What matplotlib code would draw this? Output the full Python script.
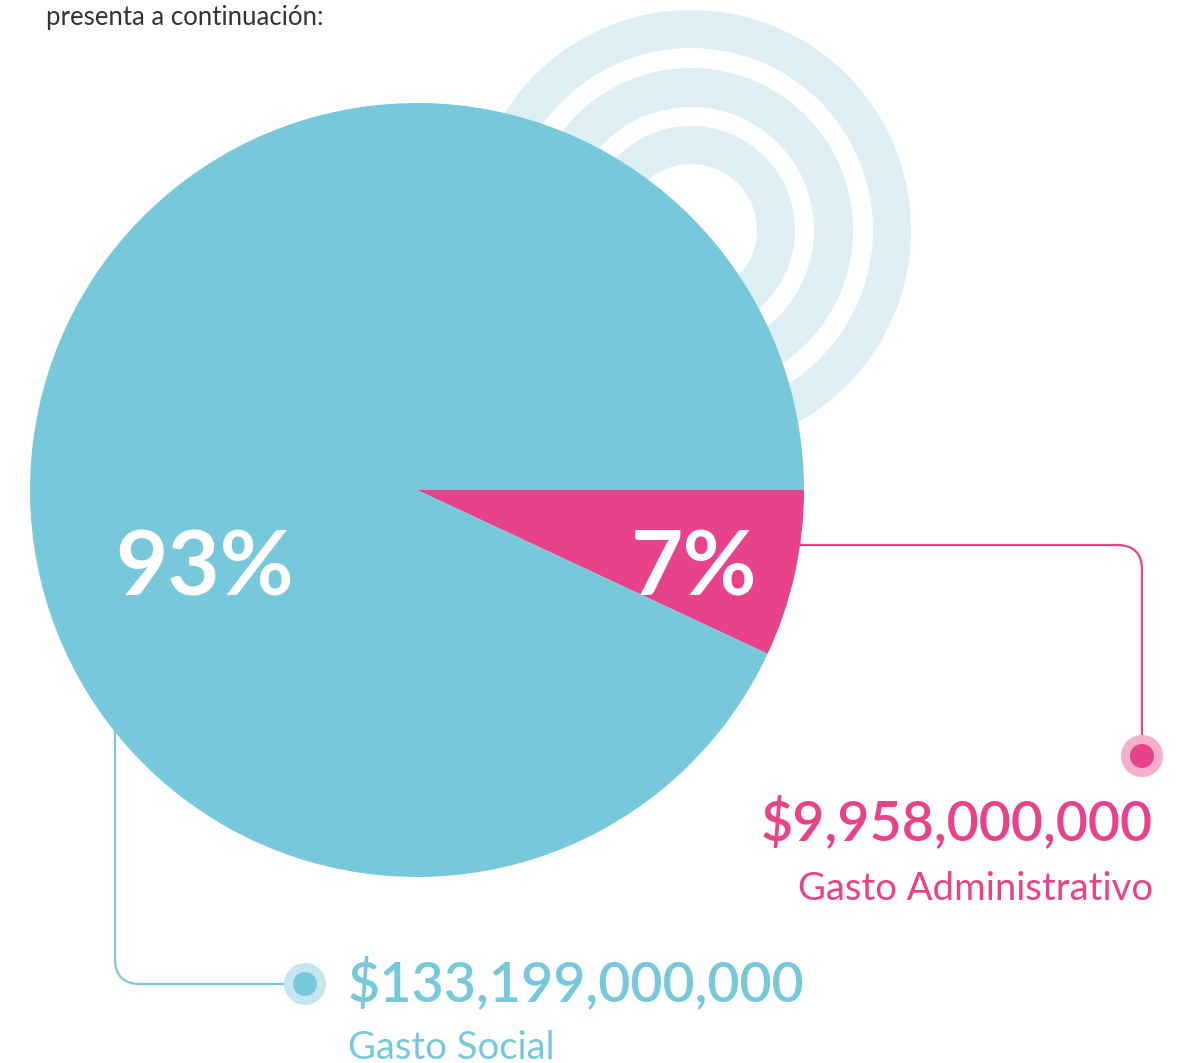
import numpy as np
import matplotlib
matplotlib.use("Agg")
import matplotlib.pyplot as plt
from matplotlib.patches import Wedge, Circle, PathPatch
from matplotlib.path import Path

# data
categories = ["Gasto Administrativo", "Gasto Social"]
amounts = [9958000000, 133199000000]
amount_labels = ["$9,958,000,000", "$133,199,000,000"]
pct_labels = ["7%", "93%"]
intro = "presenta a continuación:"

blue = "#78c8db"
pink = "#e8428b"
ring_col = "#ddeff5"

W, H = 1185, 1063
fig = plt.figure(figsize=(W / 100, H / 100), dpi=100)
ax = fig.add_axes([0, 0, 1, 1])

# pie geometry in pixel units (y axis inverted so it reads like the image)
cx, cy, R = 417, 490, 387

# decorative rings behind the pie
rc = (691, 230)
for r_out, r_in in [(220, 182), (162, 123), (104, 66)]:
    ax.add_patch(Wedge(rc, r_out, 0, 360, width=r_out - r_in, facecolor=ring_col,
                       edgecolor="none", zorder=1))

wedges, _ = ax.pie(amounts, colors=[pink, blue], startangle=0, counterclock=True,
                   center=(cx, cy), radius=R, wedgeprops=dict(linewidth=0))
for w in wedges:
    w.set_zorder(3)

ax.set_xlim(0, W)
ax.set_ylim(H, 0)
ax.set_aspect("equal")
ax.axis("off")

# percentage labels
ax.text(694, 569, pct_labels[0], color="white", fontsize=65, fontweight="bold",
        family="Lato", ha="center", va="center", zorder=5)
ax.text(205, 569, pct_labels[1], color="white", fontsize=65, fontweight="bold",
        family="Lato", ha="center", va="center", zorder=5)

# connector for the pink slice
rr = 25
px, py = 1142, 545
verts = [(cx + 300, py), (px - rr, py), (px, py), (px, py + rr), (px, 740)]
codes = [Path.MOVETO, Path.LINETO, Path.CURVE3, Path.CURVE3, Path.LINETO]
ax.add_patch(PathPatch(Path(verts, codes), facecolor="none", edgecolor=pink, lw=1.6, zorder=2))
ax.add_patch(Circle((px, 756), 21, facecolor="#f4afcb", edgecolor="none", zorder=4))
ax.add_patch(Circle((px, 756), 12, facecolor=pink, edgecolor="none", zorder=5))

# connector for the blue slice
bx, by = 115, 984
verts = [(bx, cy + 100), (bx, by - rr), (bx, by), (bx + rr, by), (290, by)]
ax.add_patch(PathPatch(Path(verts, codes), facecolor="none", edgecolor=blue, lw=1.6, zorder=2))
ax.add_patch(Circle((305, by), 21, facecolor="#c5e6f0", edgecolor="none", zorder=4))
ax.add_patch(Circle((305, by), 12, facecolor=blue, edgecolor="none", zorder=5))

# amount labels
ax.text(1153, 822, amount_labels[0], color=pink, fontsize=40, fontweight="semibold",
        family="Lato", ha="right", va="center")
ax.text(1153, 889, categories[0], color=pink, fontsize=27.5, family="Lato",
        ha="right", va="center")
ax.text(348, 983, amount_labels[1], color=blue, fontsize=40, fontweight="semibold",
        family="Lato", ha="left", va="center")
ax.text(348, 1048, categories[1], color=blue, fontsize=27.5, family="Lato",
        ha="left", va="center")

ax.text(46, 17, intro, color="#333333", fontsize=18.5, family="Lato", ha="left", va="center")

fig.savefig("out.png", dpi=100)
